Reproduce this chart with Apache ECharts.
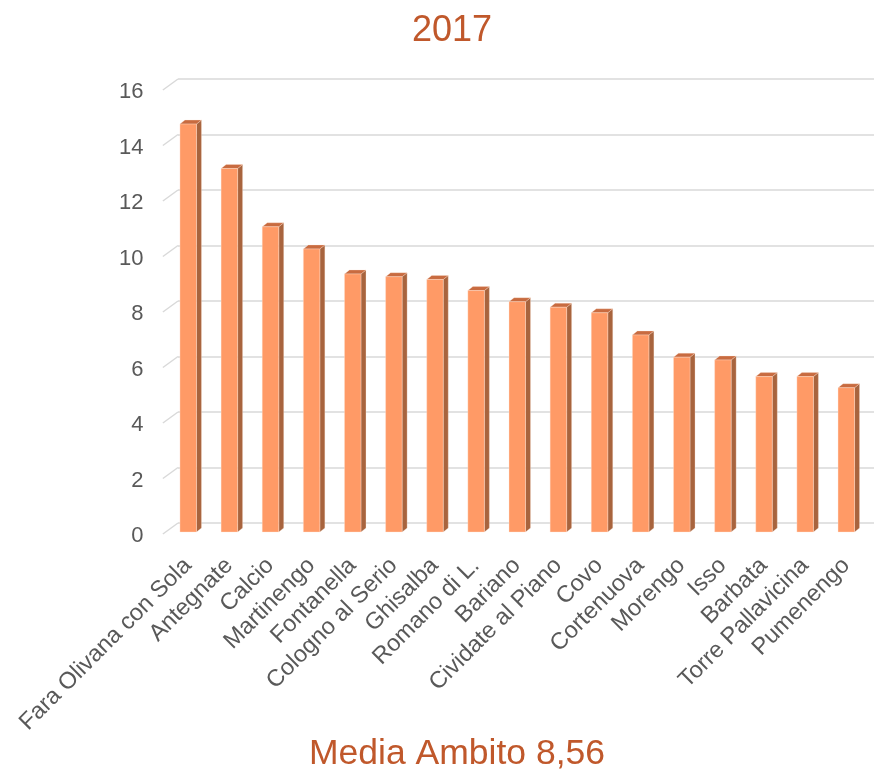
<!DOCTYPE html>
<html>
<head>
<meta charset="utf-8">
<script src="https://cdn.jsdelivr.net/npm/echarts@6/dist/echarts.min.js"></script>
<style>
  html, body { margin: 0; padding: 0; background: #ffffff; }
  #chart { width: 874px; height: 771px; }
</style>
</head>
<body>
<div id="chart"></div>
<script>
// Comuni dell'ambito, anno 2017
const categories = [
  'Fara Olivana con Sola', 'Antegnate', 'Calcio', 'Martinengo', 'Fontanella',
  'Cologno al Serio', 'Ghisalba', 'Romano di L.', 'Bariano', 'Cividate al Piano',
  'Covo', 'Cortenuova', 'Morengo', 'Isso', 'Barbata', 'Torre Pallavicina', 'Pumenengo'
];
const values = [14.7, 13.1, 11.0, 10.2, 9.3, 9.2, 9.1, 8.7, 8.3, 8.1, 7.9, 7.1, 6.3, 6.2, 5.6, 5.6, 5.2];
const yTicks = [0, 2, 4, 6, 8, 10, 12, 14, 16];
const titleText = '2017';
const footerText = 'Media Ambito 8,56';

const FRONT = '#FF9A66';
const SIDE = '#A8643E';
const TOP = '#C86B40';
const DEPTH_X = 5, DEPTH_Y = 4;

const chart = echarts.init(document.getElementById('chart'));

const hiddenValueAxis = { type: 'value', show: false, min: 0, max: 1 };
const yRange = { min: 0, max: 16, interval: 2 };

chart.setOption({
  backgroundColor: '#ffffff',
  animation: false,
  title: [
    {
      text: titleText, left: 407, top: 8,
      textStyle: { fontFamily: 'Liberation Sans', fontSize: 36, fontWeight: 'normal', color: '#C0582B' }
    },
    {
      text: footerText, left: 304, top: 731,
      textStyle: { fontFamily: 'Liberation Sans', fontSize: 35.5, fontWeight: 'normal', color: '#C0582B' }
    }
  ],
  grid: [
    { left: 167.4, right: 7.4, top: 88, bottom: 239 },   // bars and category labels
    { left: 178, right: 0, top: 79, bottom: 248 },        // back wall: gridlines
    { left: 167.4, right: 7.4, top: 92, bottom: 235 }     // front edge: value labels
  ],
  xAxis: [
    {
      type: 'category', gridIndex: 0, data: categories,
      axisLine: { show: false }, axisTick: { show: false },
      axisLabel: {
        interval: 0, rotate: 45, margin: 30,
        fontFamily: 'Liberation Sans', fontSize: 23.5, color: '#595959'
      }
    },
    Object.assign({ gridIndex: 1 }, hiddenValueAxis),
    Object.assign({ gridIndex: 2 }, hiddenValueAxis)
  ],
  yAxis: [
    Object.assign({ type: 'value', gridIndex: 0, show: false }, yRange),
    Object.assign({
      type: 'value', gridIndex: 1,
      axisLine: { show: false }, axisTick: { show: false }, axisLabel: { show: false },
      splitLine: { show: true, lineStyle: { color: '#D9D9D9', width: 1.5 } }
    }, yRange),
    Object.assign({
      type: 'value', gridIndex: 2,
      axisLine: { show: false }, axisTick: { show: false }, splitLine: { show: false },
      axisLabel: { margin: 24, fontFamily: 'Liberation Sans', fontSize: 22, color: '#595959' }
    }, yRange)
  ],
  series: [
    {
      // diagonal side-wall ticks joining the labels to the back gridlines
      type: 'custom', xAxisIndex: 0, yAxisIndex: 0, z: 1, silent: true,
      data: yTicks.map(v => [0, v]),
      renderItem: function (params, api) {
        const p = api.coord([0, api.value(1)]);
        const band = api.size([1, 0])[0];
        const gl = p[0] - band / 2;
        return {
          type: 'line',
          shape: { x1: gl - 4.5, y1: p[1] + 2, x2: gl + 10.6, y2: p[1] - 9 },
          style: { stroke: '#D9D9D9', lineWidth: 1.5 }
        };
      }
    },
    {
      type: 'custom', xAxisIndex: 0, yAxisIndex: 0, z: 3,
      data: values.map((v, i) => [i, v]),
      renderItem: function (params, api) {
        const i = api.value(0);
        const top = api.coord([i, api.value(1)]);
        const base = api.coord([i, 0]);
        const xl = top[0] - 8, xr = top[0] + 8.5;
        const y1 = top[1], y0 = base[1];
        return {
          type: 'group',
          children: [
            {
              type: 'polygon',
              shape: { points: [[xr, y1], [xr + DEPTH_X, y1 - DEPTH_Y], [xr + DEPTH_X, y0 - DEPTH_Y], [xr, y0]] },
              style: { fill: SIDE, stroke: 'rgba(255,230,215,0.5)', lineWidth: 0.6 }
            },
            {
              type: 'polygon',
              shape: { points: [[xl, y1], [xl + DEPTH_X, y1 - DEPTH_Y], [xr + DEPTH_X, y1 - DEPTH_Y], [xr, y1]] },
              style: { fill: TOP, stroke: 'rgba(255,230,215,0.5)', lineWidth: 0.6 }
            },
            {
              type: 'rect',
              shape: { x: xl, y: y1, width: xr - xl, height: y0 - y1 },
              style: { fill: FRONT, stroke: 'rgba(255,230,215,0.6)', lineWidth: 0.6 }
            }
          ]
        };
      }
    }
  ]
});
</script>
</body>
</html>
